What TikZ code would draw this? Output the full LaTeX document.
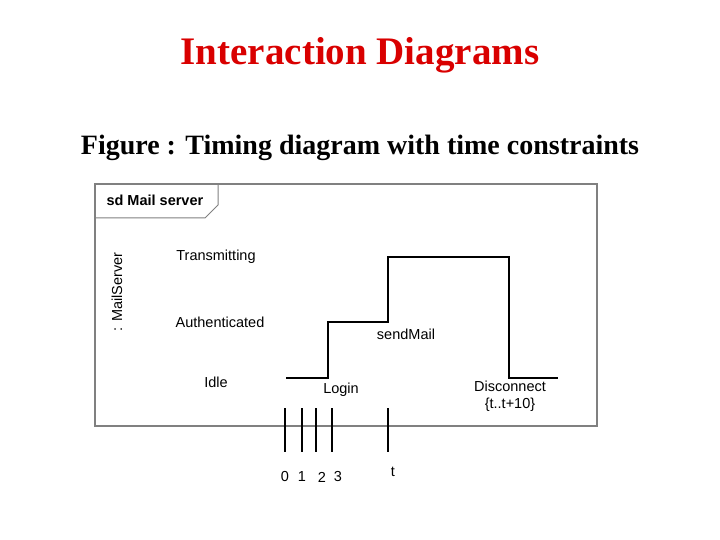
\documentclass[tikz,border=0pt]{standalone}
\usepackage{fontspec}
\setmainfont{Liberation Serif}
\setsansfont{Liberation Sans}
\usetikzlibrary{positioning}
\definecolor{titlered}{rgb}{0.85,0,0}
\definecolor{framegray}{gray}{0.5}
\tikzset{
  statelbl/.style={font=\sffamily\fontsize{14.5}{17}\selectfont},
  tick/.style={line width=1.2pt},
}
\begin{document}
\begin{tikzpicture}[x=1pt,y=-1pt]
\useasboundingbox (0,0) rectangle (720,540);

% Titles
\node[font=\bfseries\fontsize{39}{44}\selectfont,color=titlered] (title) at (360,55) {Interaction Diagrams};
\node[font=\bfseries\fontsize{28}{32}\selectfont] (caption) at (360,148) {Figure : Timing diagram with time constraints};

% Frame
\draw[framegray,line width=1.3pt] (95,184) rectangle (597,426);
\draw[framegray,line width=1pt] (95,218) -- (205,218) -- (218,205) -- (218,184);
\node[font=\sffamily\bfseries\fontsize{14.5}{17}\selectfont,anchor=west] (sd) at (103,200) {sd Mail server};
\node[statelbl,rotate=90] (life) at (117,292) {: MailServer};

% States
\node[statelbl] (trans) at (216,257) {Transmitting};
\node[statelbl] (auth) at (220,322) {Authenticated};
\node[statelbl] (idle) at (216,382) {Idle};

% Waveform
\draw[line width=1.4pt] (286,378) -- (328,378) -- (328,322) -- (388,322) -- (388,257)
  -- (509,257) -- (509,378) -- (558,378);

% Events
\node[statelbl] (login) at (341,390) {Login};
\node[statelbl] (send) at (406,334) {sendMail};
\node[statelbl] (disc) at (510,386) {Disconnect};
\node[statelbl] (cons) at (510,405) {\{t..t+10\}};

% Time ticks
\foreach \x in {285,302,316,332,388}
  \draw[tick] (\x,408) -- (\x,452);
\node[statelbl] (t0) at (285,477) {0};
\node[statelbl] (t1) at (302,477) {1};
\node[statelbl] (t2) at (322,477) {2};
\node[statelbl] (t3) at (338,477) {3};
\node[statelbl] (tt) at (393,472) {t};
\end{tikzpicture}
\end{document}
